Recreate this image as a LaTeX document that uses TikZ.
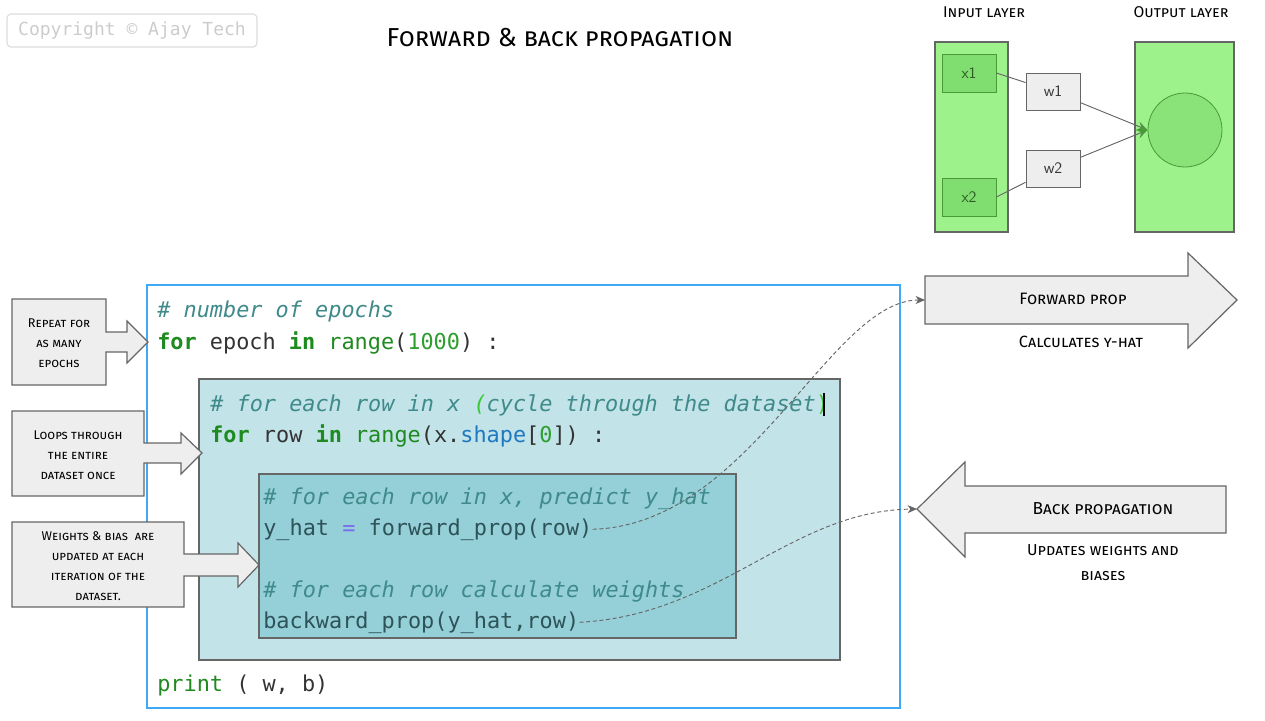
\documentclass[tikz,border=0pt]{standalone}
\usepackage{fontspec}
\setmonofont{DejaVu Sans Mono}
\newfontfamily\notefont{Fira Sans}
\usetikzlibrary{arrows.meta, positioning, calc}

\definecolor{layergreen}{HTML}{9EF28C}
\definecolor{unitgreen}{HTML}{80DD70}
\definecolor{edgegreen}{HTML}{4A9A3A}
\definecolor{boxgray}{HTML}{EEEEEE}
\definecolor{linegray}{HTML}{666666}
\definecolor{loopblue}{HTML}{3FA9F5}
\definecolor{rowfill}{HTML}{C2E3E7}
\definecolor{stepfill}{HTML}{95D0D9}
\definecolor{commentteal}{HTML}{3F8A8A}
\definecolor{kwgreen}{HTML}{1F8A1F}
\definecolor{numgreen}{HTML}{2E9E2E}
\definecolor{brgreen}{HTML}{3CC83C}
\definecolor{shapeblue}{HTML}{1F78C0}
\definecolor{eqpurple}{HTML}{7B68EE}
\definecolor{codetext}{HTML}{333333}
\definecolor{innertext}{HTML}{2D5257}

\newcommand{\kw}[1]{\textcolor{kwgreen}{\bfseries #1}}
\newcommand{\bi}[1]{\textcolor{kwgreen}{#1}}
\newcommand{\nm}[1]{\textcolor{numgreen}{#1}}
\newcommand{\cm}[1]{\textcolor{commentteal}{\itshape #1}}

\begin{document}
\begin{tikzpicture}[x=0.75pt, y=-0.75pt,
  layer/.style={draw=linegray, fill=layergreen, line width=0.9pt, inner sep=0pt},
  unit/.style={draw=edgegreen, fill=unitgreen, line width=0.6pt, inner sep=0pt, minimum width=40.5pt, minimum height=28.5pt, font=\sffamily\large, text=edgegreen!60!black},
  weight/.style={draw=linegray, fill=boxgray, line width=0.6pt, inner sep=0pt, minimum width=40.5pt, minimum height=27.75pt, font=\sffamily\large, text=black!80},
  callout/.style={draw=linegray, fill=boxgray, line width=0.9pt},
  note/.style={align=center, font=\fontsize{9.5}{15}\selectfont\notefont\scshape},
  codeline/.style={anchor=base west, inner sep=0pt, font=\fontsize{16.4}{20}\selectfont\ttfamily, text=codetext},
  flow/.style={densely dashed, draw=linegray, line width=0.7pt, -{Stealth[length=7pt, width=6pt, inset=2pt]}}]
  \useasboundingbox (0,0) rectangle (1265,721);

  % header
  \node[draw=black!14, rounded corners=3pt, line width=0.8pt, minimum width=187.5pt, minimum height=24.75pt, font=\fontsize{13.5}{16}\selectfont\ttfamily, text=black!20] (copy) at (132,30.5) {Copyright © Ajay Tech};
  \node[note, font=\fontsize{19.5}{22}\selectfont\notefont\scshape] (title) at (560,38) {Forward \& back propagation};

  % network
  \node[layer, minimum width=54.75pt, minimum height=142.5pt] (inlayer) at (971.5,137) {};
  \node[layer, minimum width=74.25pt, minimum height=142.5pt] (outlayer) at (1184.5,137) {};
  \node[note, font=\fontsize{11.7}{12}\selectfont\notefont\scshape] (inlabel) at (984,12) {Input layer};
  \node[note, font=\fontsize{11.7}{12}\selectfont\notefont\scshape] (outlabel) at (1181,12) {Output layer};
  \node[unit] (x1) at (969,73) {x1};
  \node[unit] (x2) at (969,197) {x2};
  \node[weight] (w1) at (1053,91.5) {w1};
  \node[weight] (w2) at (1053,168.5) {w2};
  \node[circle, draw=edgegreen, fill=unitgreen!70!layergreen, line width=0.6pt, minimum size=55.5pt] (yout) at (1185,130) {};
  \draw[linegray, line width=0.7pt] (x1.east) -- (w1);
  \draw[linegray, line width=0.7pt] (x2.east) -- (w2);
  \draw[linegray, line width=0.7pt, -{Stealth[length=8pt, width=7pt, inset=3pt, color=edgegreen]}] (w1) -- (yout.west);
  \draw[linegray, line width=0.7pt, -{Stealth[length=8pt, width=7pt, inset=3pt, color=edgegreen]}] (w2) -- (yout.west);

  % code boxes
  \draw[loopblue, line width=1.6pt, fill=white] (147,285) rectangle (900,708);
  \draw[linegray, line width=0.8pt, fill=rowfill] (199,379) rectangle (840,660);
  \draw[linegray, line width=0.8pt, fill=stepfill] (259,474) rectangle (736,638);

  \node[codeline] (epochcm) at (157,317) {\cm{\# number of epochs}};
  \node[codeline] (epochline) at (157,349) {\kw{for} epoch \kw{in} \bi{range}(\nm{1000}) :};
  \node[codeline] (rowcm) at (210,411) {\cm{\# for each row in x }\textcolor{brgreen}{\itshape(}\cm{cycle through the dataset}\textcolor{brgreen}{)}};
  \node[codeline] (rowline) at (210,442) {\kw{for} row \kw{in} \bi{range}(x.\textcolor{shapeblue}{shape}[\nm{0}]) :};
  \node[codeline] (fwdcm) at (263,504) {\cm{\# for each row in x, predict y\_hat}};
  \node[codeline, text=innertext] (fwdline) at (263,535) {y\_hat \textcolor{eqpurple}{=} forward\_prop(row)};
  \node[codeline] (backcm) at (263,597) {\cm{\# for each row calculate weights}};
  \node[codeline, text=innertext] (backline) at (263,628) {backward\_prop(y\_hat,row)};
  \node[codeline] (printline) at (157,691) {\bi{print} ( w, b)};
  \draw[black, line width=1.5pt] (824,393) -- (824,416);

  % left callouts
  \draw[callout] (12,299) -- (106,299) -- (106,332) -- (127,332) -- (127,321) -- (148,342) -- (127,363) -- (127,352) -- (106,352) -- (106,385) -- (12,385) -- cycle;
  \node[note] (epochnote) at (59,343) {Repeat for\\as many\\epochs};
  \draw[callout] (12,411) -- (144,411) -- (144,443) -- (181,443) -- (181,433) -- (202,453) -- (181,474) -- (181,463) -- (144,463) -- (144,496) -- (12,496) -- cycle;
  \node[note] (rownote) at (78,455) {Loops through\\the entire\\dataset once};
  \draw[callout] (12,522) -- (184,522) -- (184,554) -- (238,554) -- (238,543) -- (259,565) -- (238,587) -- (238,576) -- (184,576) -- (184,607) -- (12,607) -- cycle;
  \node[note] (stepnote) at (98,566) {Weights \& bias\ \ are\\updated at each\\iteration of the\\dataset.};

  % right arrows
  \draw[callout] (925,276) -- (1188,276) -- (1188,253) -- (1237,300) -- (1188,348) -- (1188,324) -- (925,324) -- cycle;
  \coordinate (fwdtail) at (925,300);
  \node[note, font=\fontsize{12.4}{14}\selectfont\notefont\scshape] (fwdtitle) at (1073,299) {Forward prop};
  \node[note, font=\fontsize{12.2}{14}\selectfont\notefont\scshape] (fwdsub) at (1081,342) {Calculates y-hat};
  \draw[callout] (917,509) -- (965,462) -- (965,486) -- (1226,486) -- (1226,533) -- (965,533) -- (965,557) -- cycle;
  \coordinate (backtip) at (917,509);
  \node[note, font=\fontsize{13}{14}\selectfont\notefont\scshape] (backtitle) at (1103,509) {Back propagation};
  \node[note, font=\fontsize{11.9}{18.75}\selectfont\notefont\scshape] (backsub) at (1103,563) {Updates weights and\\biases};

  % flow
  \draw[flow] (fwdline.east) .. controls (750,525) and (830,300) .. (fwdtail);
  \draw[flow] (backline.east) .. controls (720,615) and (790,511) .. (backtip);
\end{tikzpicture}
\end{document}
